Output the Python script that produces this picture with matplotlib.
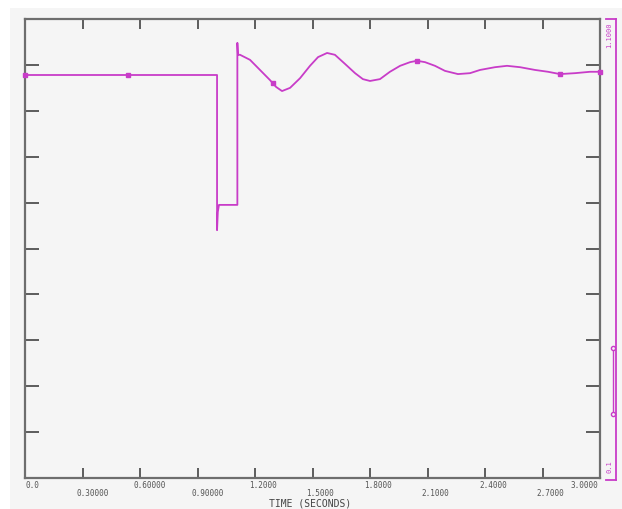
import matplotlib
matplotlib.use("Agg")
import matplotlib.pyplot as plt
from matplotlib.lines import Line2D
from matplotlib.patches import Rectangle

# bus voltage trace (per unit) against simulation time
time_s = [0.0, 1.002, 1.002, 1.006, 1.012, 1.108, 1.108, 1.111, 1.122, 1.174,
          1.226, 1.278, 1.310, 1.341, 1.383, 1.435, 1.487, 1.529, 1.576, 1.617,
          1.670, 1.722, 1.763, 1.800, 1.852, 1.904, 1.957, 2.009, 2.045, 2.087,
          2.139, 2.191, 2.259, 2.322, 2.374, 2.452, 2.515, 2.583, 2.661, 2.729,
          2.791, 2.870, 2.948, 3.000]
voltage = [0.978, 0.978, 0.640, 0.680, 0.695, 0.695, 1.048, 1.022, 1.022, 1.011,
           0.989, 0.967, 0.952, 0.943, 0.950, 0.971, 0.998, 1.017, 1.026, 1.022,
           1.002, 0.982, 0.969, 0.965, 0.969, 0.985, 0.998, 1.006, 1.009, 1.006,
           0.998, 0.987, 0.980, 0.982, 0.989, 0.995, 0.998, 0.995, 0.989, 0.985,
           0.980, 0.982, 0.985, 0.985]

# symbols plotted along the curve
mark_t = [0.0, 0.537, 1.294, 2.045, 2.791, 3.0]
mark_v = [0.978, 0.978, 0.961, 1.009, 0.980, 0.985]

x_ticks = [0.0, 0.3, 0.6, 0.9, 1.2, 1.5, 1.8, 2.1, 2.4, 2.7, 3.0]
x_labels = ["0.0", "0.30000", "0.60000", "0.90000", "1.2000", "1.5000",
            "1.8000", "2.1000", "2.4000", "2.7000", "3.0000"]
y_min, y_max = 0.1, 1.1
y_ticks = [0.2, 0.3, 0.4, 0.5, 0.6, 0.7, 0.8, 0.9, 1.0]

W, H = 622, 509
MAG = "#c83cc8"
AXC = "#6e6e6e"
BG = "#f5f5f5"

fig = plt.figure(figsize=(W / 100, H / 100), dpi=100, facecolor="white")
fig.add_artist(Rectangle((10 / W, 0), 1 - 10 / W, 1 - 8 / H,
                         transform=fig.transFigure, facecolor=BG,
                         edgecolor="none", zorder=-10))


def fx(px):
    return px / W


def fy(py):
    return 1 - py / H


ax = fig.add_axes([fx(25), fy(478), fx(600) - fx(25), fy(19) - fy(478)])
ax.set_facecolor(BG)
ax.set_xlim(0, 3.0)
ax.set_ylim(y_min, y_max)

ax.plot(time_s, voltage, color=MAG, lw=1.3, zorder=3)
ax.plot(mark_t, mark_v, ls="none", marker="s", ms=3.5, color=MAG,
        clip_on=False, zorder=4)

for s in ax.spines.values():
    s.set_color(AXC)
    s.set_linewidth(1.6)

ax.set_xticks(x_ticks[1:-1])
ax.set_yticks(y_ticks)
ax.tick_params(axis="x", which="both", direction="in", length=7, width=1.3,
               color="#505050", top=True, bottom=True, labelbottom=False)
ax.tick_params(axis="y", which="both", direction="in", length=10, width=1.3,
               color="#505050", left=True, right=True, labelleft=False)

# staggered time labels under the axis
mono = "DejaVu Sans Mono"
for i, (t, lab) in enumerate(zip(x_ticks, x_labels)):
    dy = -7 if i % 2 == 0 else -15
    if i == len(x_ticks) - 1:
        ax.annotate(lab, (t, y_min), xytext=(-2, dy), textcoords="offset pixels",
                    ha="right", va="center", fontsize=5.5, family=mono,
                    color="#555555", annotation_clip=False)
    else:
        ax.annotate(lab, (t, y_min), xytext=(-6 if i else 0, dy),
                    textcoords="offset pixels", ha="left", va="center",
                    fontsize=5.5, family=mono, color="#555555",
                    annotation_clip=False)

fig.text(fx(310), fy(503), "TIME (SECONDS)", ha="center", va="center",
         fontsize=7, family=mono, color="#444444")

# vertical scale bar on the right edge
fig.add_artist(Line2D([fx(616), fx(616)], [fy(19), fy(480)], color=MAG, lw=1.3))
fig.add_artist(Line2D([fx(606), fx(616)], [fy(19), fy(19)], color=MAG, lw=1.3))
fig.add_artist(Line2D([fx(606), fx(616)], [fy(480), fy(480)], color=MAG, lw=1.3))
fig.add_artist(Line2D([fx(613), fx(613)], [fy(348), fy(414)], color=MAG, lw=1.0,
                      marker="o", ms=3, mfc=BG, mec=MAG))
fig.text(fx(609), fy(22), "1.1000", rotation=90, ha="center", va="top",
         fontsize=5, family=mono, color=MAG)
fig.text(fx(609), fy(473), "0.1", rotation=90, ha="center", va="bottom",
         fontsize=5, family=mono, color=MAG)

fig.savefig("out.png", dpi=100, facecolor="white")
